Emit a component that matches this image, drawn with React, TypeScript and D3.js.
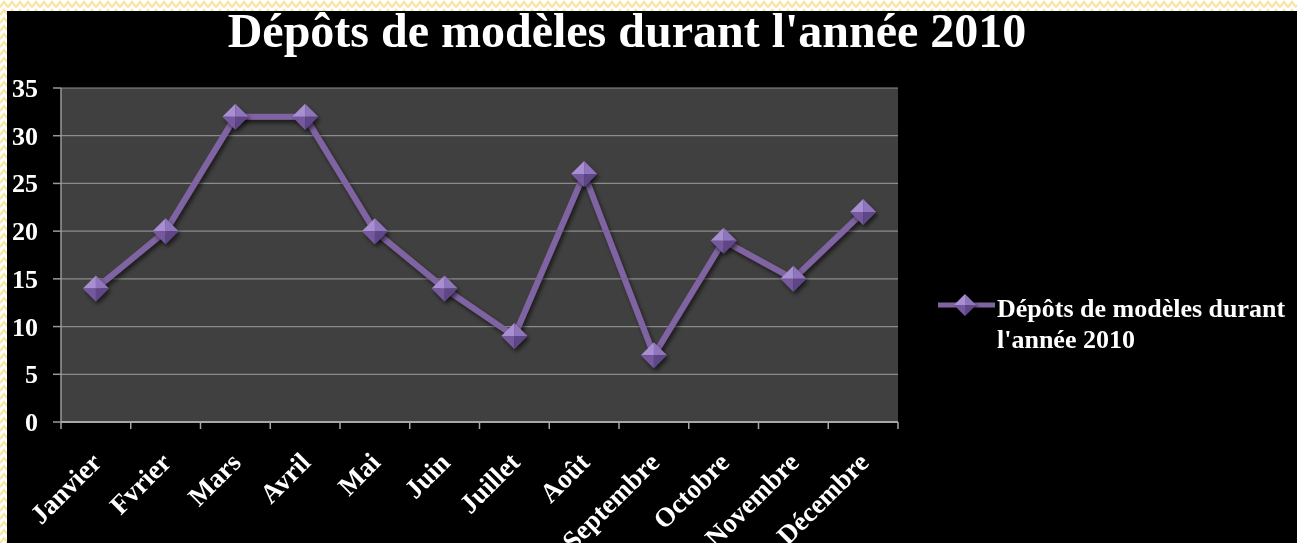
import React from "react";
import * as d3 from "d3";

const months = ["Janvier", "Fvrier", "Mars", "Avril", "Mai", "Juin", "Juillet", "Août", "Septembre", "Octobre", "Novembre", "Décembre"];
const depots = [14, 20, 32, 32, 20, 14, 9, 26, 7, 19, 15, 22];
const yTicks = [0, 5, 10, 15, 20, 25, 30, 35];
const title = "Dépôts de modèles durant l'année 2010";
const legendLines = ["Dépôts de modèles durant", "l'année 2010"];

const W = 1297;
const H = 543;
const font = "'Liberation Serif', 'Times New Roman', serif";
const purple = "#8064a2";

function Diamond({ cx, cy, s }: { cx: number; cy: number; s: number }) {
  // four facets to fake the bevelled Excel marker
  return (
    <g transform={`translate(${cx},${cy})`} filter="url(#shadow)">
      <polygon points={`0,0 ${-s},0 0,${-s}`} fill="#a88fd2" />
      <polygon points={`0,0 0,${-s} ${s},0`} fill="#8f74bc" />
      <polygon points={`0,0 ${-s},0 0,${s}`} fill="#76599f" />
      <polygon points={`0,0 ${s},0 0,${s}`} fill="#5f4687" />
    </g>
  );
}

export default function App() {
  const x = d3.scaleBand().domain(months).range([61, 898]);
  const y = d3.scaleLinear().domain([0, 35]).range([422, 88]);
  const cx = (m: string) => (x(m) ?? 0) + x.bandwidth() / 2;

  const line = d3
    .line<number>()
    .x((_, i) => cx(months[i]))
    .y((d) => y(d));

  const boundaries = months.map((m) => x(m) ?? 0).concat([x.range()[1]]);

  return (
    <div style={{ position: "fixed", left: 0, top: 0 }}>
      <svg width={W} height={H} style={{ display: "block" }}>
        <defs>
          <pattern id="zig" width="16" height="8" patternUnits="userSpaceOnUse">
            <rect width="16" height="8" fill="#ffffff" />
            <polyline points="0,7 4,2 8,7 12,2 16,7" fill="none" stroke="#fbe3a0" strokeWidth="2.2" />
          </pattern>
          <filter id="shadow" x="-50%" y="-50%" width="200%" height="200%">
            <feDropShadow dx="2" dy="3" stdDeviation="2" floodColor="#000" floodOpacity="0.6" />
          </filter>
        </defs>

        <rect width={W} height={H} fill="url(#zig)" />
        <rect x={7} y={11} width={W - 7} height={H - 11} fill="#000" />

        <text x={627} y={47} textAnchor="middle" fill="#fff" fontFamily={font} fontWeight="bold" fontSize={48}>
          {title}
        </text>

        {/* plot area */}
        <rect x={61} y={88} width={898 - 61} height={422 - 88} fill="#404040" />
        {yTicks.map((t) => (
          <g key={t}>
            <line x1={61} x2={898} y1={y(t)} y2={y(t)} stroke="#8c8c8c" strokeWidth={1.2} />
            <line x1={53} x2={61} y1={y(t)} y2={y(t)} stroke="#9a9a9a" strokeWidth={1.5} />
            <text x={38} y={y(t) + 9} textAnchor="end" fill="#fff" fontFamily={font} fontWeight="bold" fontSize={26}>
              {t}
            </text>
          </g>
        ))}
        <line x1={61} x2={61} y1={88} y2={422} stroke="#9a9a9a" strokeWidth={1.5} />
        <line x1={61} x2={898} y1={422} y2={422} stroke="#a6a6a6" strokeWidth={2} />
        {boundaries.map((b, i) => (
          <line key={i} x1={b} x2={b} y1={422} y2={429} stroke="#a6a6a6" strokeWidth={1.5} />
        ))}

        {months.map((m) => (
          <text
            key={m}
            transform={`translate(${cx(m) + 7},${464}) rotate(-45)`}
            textAnchor="end"
            fill="#fff"
            fontFamily={font}
            fontWeight="bold"
            fontSize={27}
          >
            {m}
          </text>
        ))}

        <path d={line(depots) ?? ""} fill="none" stroke={purple} strokeWidth={6} strokeLinejoin="round" filter="url(#shadow)" />
        {depots.map((d, i) => (
          <Diamond key={i} cx={cx(months[i])} cy={y(d)} s={13} />
        ))}

        {/* legend */}
        <line x1={938} x2={995} y1={305} y2={305} stroke={purple} strokeWidth={5} />
        <Diamond cx={965} cy={305} s={11} />
        {legendLines.map((l, i) => (
          <text key={i} x={997} y={317 + i * 31} fill="#fff" fontFamily={font} fontWeight="bold" fontSize={26}>
            {l}
          </text>
        ))}
      </svg>
    </div>
  );
}
